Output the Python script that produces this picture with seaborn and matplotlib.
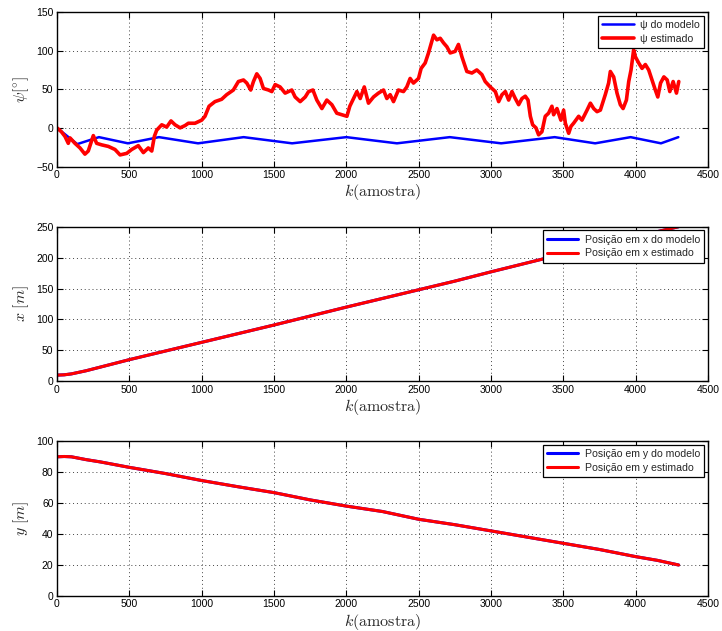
import numpy as np
import pandas as pd
import matplotlib
matplotlib.use("Agg")
import matplotlib.pyplot as plt
import seaborn as sns

# Heading angle: model (piecewise) and estimate
k_psi_model = [0, 140, 290, 490, 705, 975, 1290, 1625, 2000, 2350, 2715,
               3070, 3440, 3720, 3965, 4175, 4295]
psi_model = [0, -21, -12, -20, -12, -20, -12, -20, -12, -20, -12,
             -20, -12, -20, -12, -20, -12]

k_psi_est = [0, 30, 55, 78, 90, 124, 159, 193, 216, 251, 274, 309, 355, 401,
             436, 482, 516, 562, 597, 631, 655, 673, 689, 724, 758, 788, 816,
             851, 885, 908, 954, 1000, 1023, 1051, 1092, 1138, 1173, 1219,
             1254, 1289, 1312, 1339, 1358, 1381, 1404, 1427, 1462, 1485, 1508,
             1542, 1577, 1600, 1623, 1646, 1681, 1716, 1739, 1769, 1796, 1831,
             1865, 1900, 1934, 1969, 2004, 2024, 2050, 2073, 2096, 2124, 2153,
             2188, 2222, 2257, 2280, 2303, 2326, 2360, 2395, 2418, 2441, 2464,
             2499, 2517, 2545, 2568, 2591, 2603, 2626, 2649, 2672, 2695, 2718,
             2752, 2775, 2799, 2833, 2868, 2902, 2937, 2960, 2995, 3030, 3053,
             3076, 3099, 3122, 3145, 3168, 3191, 3214, 3237, 3256, 3272, 3288,
             3311, 3329, 3352, 3375, 3398, 3421, 3433, 3456, 3483, 3502, 3514,
             3537, 3553, 3571, 3606, 3629, 3664, 3687, 3710, 3733, 3756, 3790,
             3813, 3825, 3848, 3871, 3894, 3913, 3936, 3952, 3968, 3986, 3998,
             4021, 4044, 4067, 4090, 4113, 4136, 4153, 4172, 4195, 4218, 4236,
             4259, 4282, 4298]
psi_est = [0, -5, -11, -20, -13, -20, -26, -34, -30, -10, -20, -22, -24, -28,
           -35, -33, -28, -23, -32, -26, -30, -11, -3, 4, 1, 9, 4,
           0, 3, 6, 6, 10, 15, 28, 34, 37, 43, 49,
           60, 62, 58, 49, 60, 70, 64, 51, 49, 47, 56,
           53, 45, 47, 49, 40, 34, 40, 47, 49, 36, 25,
           36, 30, 19, 17, 15, 28, 38, 47, 38, 53, 32,
           40, 45, 49, 38, 43, 34, 49, 47, 53, 64, 58,
           64, 77, 84, 97, 112, 120, 114, 116, 110, 105, 97,
           99, 108, 92, 73, 71, 75, 69, 60, 53, 47, 34,
           43, 47, 36, 47, 38, 30, 38, 41, 36, 15, 4,
           0, -9, -5, 15, 19, 28, 17, 25, 10, 23, 6,
           -7, 2, 6, 15, 10, 23, 32, 25, 21, 23, 43,
           58, 73, 66, 45, 30, 25, 36, 60, 75, 101, 92,
           84, 77, 82, 75, 62, 49, 40, 58, 66, 62, 47,
           60, 45, 60]

# Position in x and y (model and estimate coincide)
k_pos = [0, 50, 100, 200, 300, 500, 750, 1000, 1250, 1500, 1750, 2000,
         2250, 2500, 2750, 3000, 3250, 3500, 3750, 4000, 4150, 4297]
x_pos = [10, 10.5, 12, 17, 23, 35, 49, 63, 77, 91, 105.5, 120,
         134, 148, 162, 177, 191.5, 206, 220, 234, 242, 250]
y_pos = [89.8, 90, 89.8, 88, 86.5, 83, 79, 74.5, 70.5, 66.7, 62, 58,
         54.5, 49.5, 46, 42, 38, 34, 30, 25.4, 23, 20]

sns.set_style("ticks")
plt.rcParams["font.family"] = ["Liberation Sans", "DejaVu Sans"]
plt.rcParams["mathtext.fontset"] = "cm"
plt.rcParams["xtick.direction"] = "in"
plt.rcParams["ytick.direction"] = "in"

fig = plt.figure(figsize=(7.22, 6.31), dpi=100)
left, width = 57 / 722, 651 / 722
boxes = [
    (1 - 166.5 / 631, 154.5 / 631),
    (1 - 381.3 / 631, 154.6 / 631),
    (1 - 596.0 / 631, 155.0 / 631),
]
axes = [fig.add_axes([left, b, width, h]) for b, h in boxes]

psi_m = pd.DataFrame({"k": k_psi_model, "v": psi_model})
psi_e = pd.DataFrame({"k": k_psi_est, "v": psi_est})
pos = pd.DataFrame({"k": k_pos, "x": x_pos, "y": y_pos})

ax = axes[0]
sns.lineplot(data=psi_m, x="k", y="v", ax=ax, color="#0000ff", lw=1.8,
             estimator=None, sort=False, label="ψ do modelo")
sns.lineplot(data=psi_e, x="k", y="v", ax=ax, color="#ff0000", lw=2.6,
             estimator=None, sort=False, label="ψ estimado")
ax.set_ylim(-50, 150)
ax.set_yticks([-50, 0, 50, 100, 150])
ax.set_ylabel(r"$\psi[^{\circ}]$", fontsize=11.5)

ax = axes[1]
sns.lineplot(data=pos, x="k", y="x", ax=ax, color="#0000ff", lw=2.2,
             estimator=None, sort=False, label="Posição em x do modelo")
sns.lineplot(data=pos, x="k", y="x", ax=ax, color="#ff0000", lw=2.2,
             estimator=None, sort=False, label="Posição em x estimado")
ax.set_ylim(0, 250)
ax.set_yticks([0, 50, 100, 150, 200, 250])
ax.set_ylabel(r"$x\ [m]$", fontsize=11.5)

ax = axes[2]
sns.lineplot(data=pos, x="k", y="y", ax=ax, color="#0000ff", lw=2.2,
             estimator=None, sort=False, label="Posição em y do modelo")
sns.lineplot(data=pos, x="k", y="y", ax=ax, color="#ff0000", lw=2.2,
             estimator=None, sort=False, label="Posição em y estimado")
ax.set_ylim(0, 100)
ax.set_yticks([0, 20, 40, 60, 80, 100])
ax.set_ylabel(r"$y\ [m]$", fontsize=11.5)

for ax in axes:
    ax.set_xlim(0, 4500)
    ax.set_xticks(range(0, 4501, 500))
    ax.set_xlabel(r"$k(\mathrm{amostra})$", fontsize=11.5)
    ax.xaxis.set_label_coords(0.5, -0.1)
    ax.yaxis.set_label_coords(-0.04, 0.5)
    ax.tick_params(axis="both", labelsize=7.5, length=4, width=0.8,
                   top=True, right=True, pad=2.5, colors="black")
    ax.grid(True, linestyle=(0, (1, 3)), color="#444444", lw=0.7)
    for s in ax.spines.values():
        s.set_visible(True)
        s.set_color("black")
        s.set_linewidth(1.0)
    leg = ax.legend(loc="upper right", fontsize=7.6, frameon=True,
                    fancybox=False, framealpha=1, edgecolor="black",
                    borderaxespad=0.35, handlelength=3.0, handletextpad=0.6,
                    borderpad=0.4, labelspacing=0.35)
    leg.get_frame().set_linewidth(0.9)
    leg.set_zorder(5)

fig.savefig("out.png", dpi=100)
